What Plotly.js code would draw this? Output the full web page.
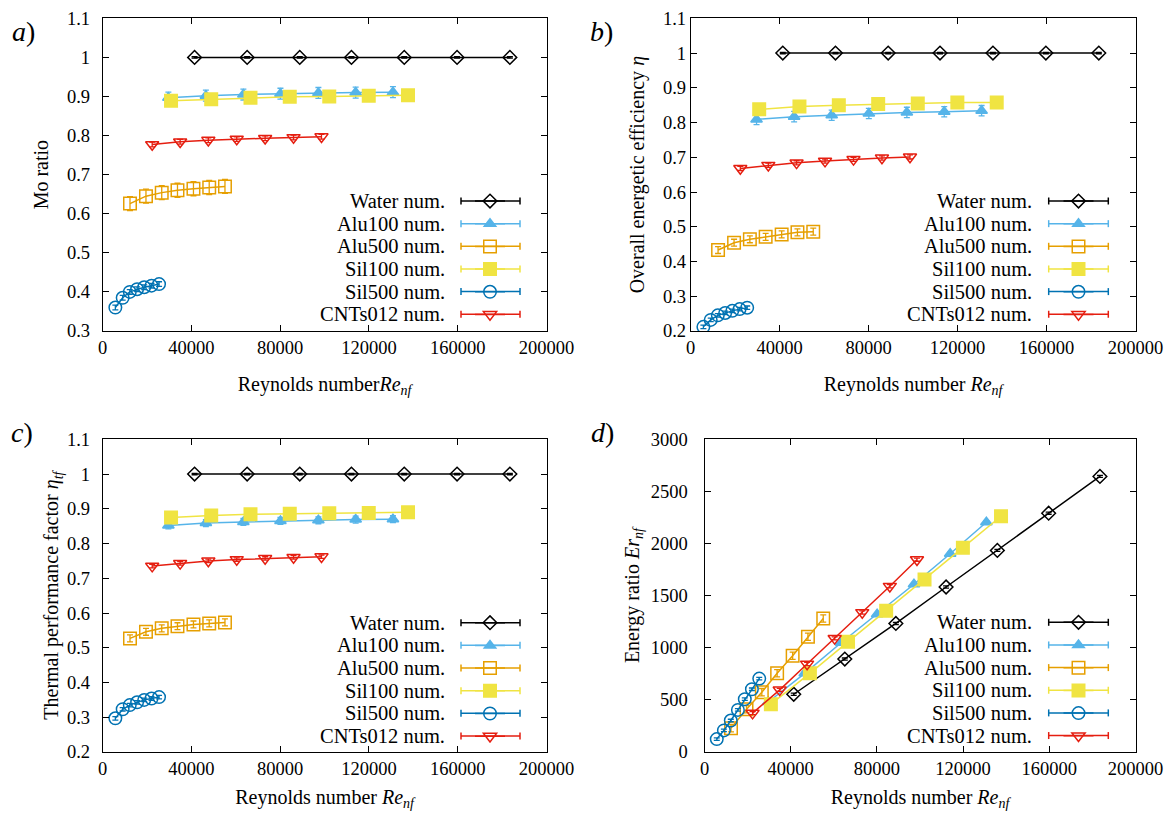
<!DOCTYPE html>
<html>
<head>
<meta charset="utf-8">
<script src="https://cdn.plot.ly/plotly-3.0.1.min.js"></script>
<style>html,body{margin:0;padding:0;background:#fff}#chart{width:1170px;height:822px}</style>
</head>
<body>
<div id="chart"></div>
<script>
// ================= DATA =================
const seriesNames = ['Water num.', 'Alu100 num.', 'Alu500 num.', 'Sil100 num.', 'Sil500 num.', 'CNTs012 num.'];

// Reynolds numbers Re_nf
const reWater   = [41400, 65100, 88800, 112100, 135900, 159700, 183500];
const reAlu100  = [29600, 46500, 63400, 80100, 97200, 114000, 130800];
const reAlu500  = [12300, 19500, 26600, 33700, 40900, 48000, 55100];
const reSil100  = [30800, 48900, 66600, 84300, 102100, 119900, 137600];
const reSil500  = [5700, 9000, 12200, 15500, 18700, 22000, 25400];
const reCNTs012 = [22300, 34900, 47600, 60400, 73200, 86000, 98600];

// a) Mo ratio
const moWater   = [1, 1, 1, 1, 1, 1, 1];
const moAlu100  = [0.897, 0.902, 0.905, 0.907, 0.909, 0.910, 0.911];
const moAlu500  = [0.626, 0.645, 0.654, 0.660, 0.664, 0.667, 0.670];
const moSil100  = [0.889, 0.893, 0.897, 0.899, 0.900, 0.902, 0.903];
const moSil500  = [0.360, 0.385, 0.400, 0.407, 0.412, 0.416, 0.420];
const moCNTs012 = [0.777, 0.784, 0.788, 0.791, 0.793, 0.795, 0.797];
const moErr     = [0.002, 0.014, 0.018, 0.010, 0.006, 0.006];

// b) Overall energetic efficiency eta
const etaWater   = [1, 1, 1, 1, 1, 1, 1];
const etaAlu100  = [0.809, 0.817, 0.821, 0.826, 0.829, 0.831, 0.834];
const etaAlu500  = [0.433, 0.454, 0.464, 0.471, 0.478, 0.484, 0.486];
const etaSil100  = [0.838, 0.846, 0.850, 0.853, 0.855, 0.858, 0.858];
const etaSil500  = [0.212, 0.232, 0.245, 0.252, 0.258, 0.263, 0.267];
const etaCNTs012 = [0.668, 0.677, 0.684, 0.689, 0.694, 0.698, 0.701];
const etaErr     = [0.002, 0.015, 0.010, 0.008, 0.005, 0.006];

// c) Thermal performance factor eta_tf
const tfWater   = [1, 1, 1, 1, 1, 1, 1];
const tfAlu100  = [0.852, 0.859, 0.862, 0.865, 0.867, 0.869, 0.870];
const tfAlu500  = [0.527, 0.546, 0.556, 0.562, 0.567, 0.570, 0.573];
const tfSil100  = [0.875, 0.881, 0.884, 0.886, 0.887, 0.888, 0.890];
const tfSil500  = [0.297, 0.323, 0.335, 0.343, 0.350, 0.354, 0.358];
const tfCNTs012 = [0.735, 0.743, 0.750, 0.754, 0.757, 0.760, 0.762];
const tfErr     = [0.002, 0.010, 0.010, 0.008, 0.005, 0.005];

// d) Energy ratio Er_nf
const erWater   = [554, 892, 1233, 1583, 1934, 2291, 2644];
const erAlu100  = [480, 755, 1048, 1322, 1609, 1902, 2204];
const erAlu500  = [229, 410, 574, 755, 924, 1105, 1281];
const erSil100  = [459, 755, 1057, 1354, 1654, 1960, 2262];
const erSil500  = [124, 207, 302, 404, 507, 602, 704];
const erCNTs012 = [373, 596, 844, 1090, 1338, 1590, 1845];
const erErr     = [10, 15, 35, 15, 12, 15];

const xTickVals = [0, 40000, 80000, 120000, 160000, 200000];
const panelLetters = ['a', 'b', 'c', 'd'];
const xTitles = [
  'Reynolds number<i>Re</i><sub><i>nf</i></sub>',
  'Reynolds number <i>Re</i><sub><i>nf</i></sub>',
  'Reynolds number <i>Re</i><sub><i>nf</i></sub>',
  'Reynolds number <i>Re</i><sub><i>nf</i></sub>'
];
const yTitles = [
  'Mo ratio',
  'Overall energetic efficiency <i>η</i>',
  'Thermal performance factor <i>η</i><sub><i>tf</i></sub>',
  'Energy ratio <i>Er</i><sub><i>nf</i></sub>'
];
const yRanges = [[0.3, 1.1], [0.2, 1.1], [0.2, 1.1], [0, 3000]];
const yDticks = [0.1, 0.1, 0.1, 500];

// ================= STYLE / GEOMETRY =================
const W = 1170, H = 822;
const FONT = 'Liberation Serif';
const colors  = ['#000000', '#56B4E9', '#E69F00', '#F0E442', '#0072B2', '#E51E10'];
const symbols = ['diamond-open', 'triangle-up', 'square-open', 'square', 'circle-open', 'triangle-down-open'];
const msizes  = [10.5, 10, 12.5, 12.5, 12.5, 11.5];

// plot frames in pixels
const frames = [
  {x0: 102.7, x1: 546.5, y0: 18.3, y1: 331},
  {x0: 690.7, x1: 1135.5, y0: 18.3, y1: 331},
  {x0: 102.7, x1: 546.5, y0: 439.3, y1: 752},
  {x0: 704.5, x1: 1135.5, y0: 439.3, y1: 752}
];
const legendGeo = [
  {tx: 446.7, lx0: 461, lx1: 520, mx: 490, y0: 201},
  {tx: 1034, lx0: 1048.7, lx1: 1108.3, mx: 1078.5, y0: 201},
  {tx: 446.7, lx0: 461, lx1: 520, mx: 490, y0: 622.7},
  {tx: 1034, lx0: 1048.7, lx1: 1108.3, mx: 1078.5, y0: 622.3}
];
const rowGap = 22.65;
const letterPos = [{x: 23, y: 31}, {x: 601, y: 31}, {x: 22, y: 432}, {x: 603, y: 432}];
const xTitleStandoff = [19, 19, 11, 11];
const yTitleStandoff = [12, 12, 2, 5];
const yTickStandoff = [8, 0, 8, 12];
const TICK_SIZE = 18.5, TITLE_SIZE = 20, LEGEND_SIZE = 20.5, LETTER_SIZE = 28;

// ================= BUILD =================
const reAll = [reWater, reAlu100, reAlu500, reSil100, reSil500, reCNTs012];
const panelData = [
  {ys: [moWater, moAlu100, moAlu500, moSil100, moSil500, moCNTs012], errs: moErr},
  {ys: [etaWater, etaAlu100, etaAlu500, etaSil100, etaSil500, etaCNTs012], errs: etaErr},
  {ys: [tfWater, tfAlu100, tfAlu500, tfSil100, tfSil500, tfCNTs012], errs: tfErr},
  {ys: [erWater, erAlu100, erAlu500, erSil100, erSil500, erCNTs012], errs: erErr}
];

const traces = [];
const layout = {
  width: W, height: H,
  margin: {l: 0, r: 0, t: 0, b: 0, pad: 0},
  paper_bgcolor: '#fff', plot_bgcolor: '#fff',
  font: {family: FONT, size: TICK_SIZE, color: '#000'},
  showlegend: true,
  shapes: [], annotations: []
};
const tickFont = {family: FONT, size: TICK_SIZE, color: '#000'};
const titleFont = {family: FONT, size: TITLE_SIZE, color: '#000'};

panelData.forEach((pd, p) => {
  const sfx = p === 0 ? '' : String(p + 1);
  const lg = 'legend' + sfx;
  const f = frames[p];
  pd.ys.forEach((yv, s) => {
    traces.push({
      type: 'scatter', mode: 'lines+markers',
      x: reAll[s], y: yv,
      xaxis: 'x' + sfx, yaxis: 'y' + sfx,
      legend: lg, name: '',
      hovertext: seriesNames[s], hoverinfo: 'x+y+text',
      line: {color: colors[s], width: 1.5},
      marker: {symbol: symbols[s], size: msizes[s], color: colors[s], line: {color: colors[s], width: 1.5}},
      error_y: {type: 'constant', value: pd.errs[s], color: colors[s], thickness: 1.3, width: 3}
    });
  });
  layout['xaxis' + sfx] = {
    domain: [f.x0 / W, f.x1 / W], anchor: 'y' + sfx,
    range: [0, 200000], tickvals: xTickVals, tickformat: 'd',
    ticks: 'inside', ticklen: 6, tickwidth: 1, tickcolor: '#000',
    showline: true, mirror: 'ticks', linecolor: '#000', linewidth: 1,
    showgrid: false, zeroline: false, tickfont: tickFont,
    title: {text: xTitles[p], font: titleFont, standoff: xTitleStandoff[p]}
  };
  layout['yaxis' + sfx] = {
    domain: [1 - f.y1 / H, 1 - f.y0 / H], anchor: 'x' + sfx,
    range: yRanges[p], dtick: yDticks[p], tick0: 0,
    ticks: 'inside', ticklen: 6, tickwidth: 1, tickcolor: '#000',
    showline: true, mirror: 'ticks', linecolor: '#000', linewidth: 1,
    showgrid: false, zeroline: false, tickfont: tickFont,
    ticklabelstandoff: yTickStandoff[p],
    title: {text: yTitles[p], font: titleFont, standoff: yTitleStandoff[p]}
  };
  const g = legendGeo[p];
  layout[lg] = {
    x: (g.mx - 20) / W, y: 1 - (g.y0 - 16.33) / H,
    xanchor: 'left', yanchor: 'top',
    bgcolor: 'rgba(0,0,0,0)', borderwidth: 0,
    font: {family: FONT, size: 15.15, color: '#000'},
    itemwidth: 30, tracegroupgap: 0, traceorder: 'normal'
  };
  seriesNames.forEach((nm, s) => {
    const yy = g.y0 + s * rowGap;
    const yp = 1 - yy / H;
    layout.shapes.push({type: 'line', xref: 'paper', yref: 'paper', x0: g.lx0 / W, x1: g.lx1 / W, y0: yp, y1: yp,
      line: {color: colors[s], width: 1.5}});
    [g.lx0, g.lx1].forEach(cx => {
      layout.shapes.push({type: 'line', xref: 'paper', yref: 'paper', x0: cx / W, x1: cx / W,
        y0: 1 - (yy - 3.5) / H, y1: 1 - (yy + 3.5) / H, line: {color: colors[s], width: 1.5}});
    });
    layout.annotations.push({
      xref: 'paper', yref: 'paper', x: g.tx / W, y: yp, xanchor: 'right', yanchor: 'middle',
      text: nm, showarrow: false, font: {family: FONT, size: LEGEND_SIZE, color: '#000'}
    });
  });
  layout.annotations.push({
    xref: 'paper', yref: 'paper', x: letterPos[p].x / W, y: 1 - letterPos[p].y / H,
    xanchor: 'center', yanchor: 'middle', showarrow: false,
    text: '<i>' + panelLetters[p] + '</i>)', font: {family: FONT, size: LETTER_SIZE, color: '#000'}
  });
});

Plotly.newPlot('chart', traces, layout, {displayModeBar: false, responsive: false}).then(gd => {
  // legend labels are drawn as text annotations (gnuplot style, left of the key);
  // drop the empty legend text nodes Plotly leaves behind
  gd.querySelectorAll('svg text').forEach(t => {
    if (!t.textContent.trim()) t.remove();
  });
});
</script>
</body>
</html>
